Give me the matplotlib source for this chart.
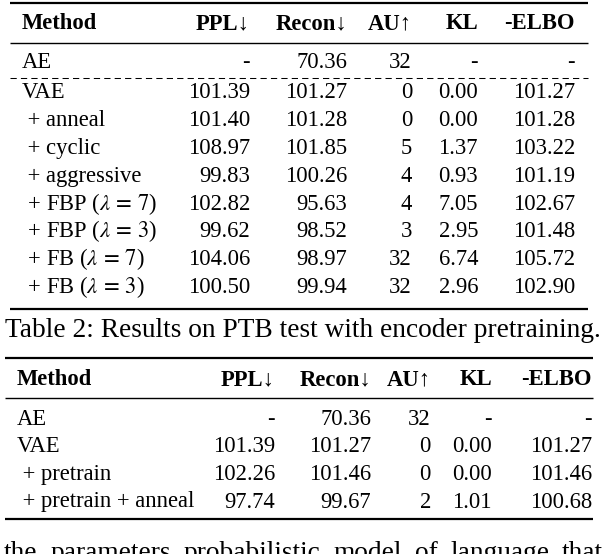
import numpy as np
import matplotlib.pyplot as plt

plt.rcParams['font.family'] = ['Liberation Serif', 'DejaVu Serif']
plt.rcParams['mathtext.fontset'] = 'stix'

#%% data
header = ['Method', 'PPL\u2193', 'Recon\u2193', 'AU\u2191', 'KL', '-ELBO']

methods1 = ['AE', 'VAE', ' + anneal', ' + cyclic', ' + aggressive',
            r' + FBP ($\lambda\,=\,7$)', r' + FBP ($\lambda\,=\,3$)',
            r' + FB ($\lambda\,=\,7$)', r' + FB ($\lambda\,=\,3$)']
ppl1 = ['-', '101.39', '101.40', '108.97', '99.83', '102.82', '99.62', '104.06', '100.50']
recon1 = ['70.36', '101.27', '101.28', '101.85', '100.26', '95.63', '98.52', '98.97', '99.94']
au1 = ['32', '0', '0', '5', '4', '4', '3', '32', '32']
kl1 = ['-', '0.00', '0.00', '1.37', '0.93', '7.05', '2.95', '6.74', '2.96']
elbo1 = ['-', '101.27', '101.28', '103.22', '101.19', '102.67', '101.48', '105.72', '102.90']

caption = 'Table 2: Results on PTB test with encoder pretraining.'

methods2 = ['AE', 'VAE', ' + pretrain', ' + pretrain + anneal']
ppl2 = ['-', '101.39', '102.26', '97.74']
recon2 = ['70.36', '101.27', '101.46', '99.67']
au2 = ['32', '0', '0', '2']
kl2 = ['-', '0.00', '0.00', '1.01']
elbo2 = ['-', '101.27', '101.46', '100.68']

# the next paragraph, cut off by the bottom edge
body_words = ['the', 'parameters', 'probabilistic', 'model', 'of', 'language', 'that']

#%% layout (pixels)
W, H = 606, 554
fs = 16.3
fs_cap = 19.7

fig = plt.figure(figsize=(W/100, H/100), dpi=100)
ax = fig.add_axes([0, 0, 1, 1])
ax.set_xlim(0, W)
ax.set_ylim(H, 0)
ax.axis('off')


def draw_table(y_top, y_head, y_mid, rows_y, y_bot, x_left, x_right, x_text, cols_x, columns, dash_y=None):
    ax.plot([x_left, x_right], [y_top, y_top], color='k', lw=1.6, solid_capstyle='butt')
    ax.plot([x_left, x_right], [y_mid, y_mid], color='k', lw=1.0, solid_capstyle='butt')
    ax.plot([x_left, x_right], [y_bot, y_bot], color='k', lw=1.6, solid_capstyle='butt')
    if dash_y is not None:
        ax.plot([x_left, x_right], [dash_y, dash_y], color='k', lw=0.75,
                linestyle=(0, (6, 4)))
    ax.text(x_text, y_head, header[0], fontsize=fs, fontweight='bold', va='baseline', ha='left')
    for name, x in zip(header[1:], cols_x):
        ax.text(x, y_head, name, fontsize=fs, fontweight='bold', va='baseline', ha='right')
    for i, y in enumerate(rows_y):
        ax.text(x_text, y, columns[0][i], fontsize=fs, va='baseline', ha='left')
        for col, x in zip(columns[1:], cols_x):
            ax.text(x, y, col[i], fontsize=fs, va='baseline', ha='right')


#%% table 1
rows1 = [68, 98.5, 126.5, 154.2, 182, 209.7, 237.4, 265, 292.8]
draw_table(3, 29, 42.5, rows1, 309, 10, 588, 22, [250, 347, 412, 478, 575],
           [methods1, ppl1, recon1, au1, kl1, elbo1], dash_y=78)

ax.text(5, 337, caption, fontsize=fs_cap, va='baseline', ha='left')

#%% table 2
rows2 = [425, 452.5, 480, 507.5]
draw_table(358, 385, 398, rows2, 519, 5, 593, 17, [275, 371, 431, 492, 592],
           [methods2, ppl2, recon2, au2, kl2, elbo2])

#%% justified line of body text below the tables (cut by the bottom edge)
renderer = fig.canvas.get_renderer()
words = [ax.text(0, 560, w, fontsize=fs_cap, va='baseline', ha='left') for w in body_words]
widths = [t.get_window_extent(renderer).width for t in words]
x0, x1 = 4, 603
gap = (x1 - x0 - sum(widths)) / (len(words) - 1)
x = x0
for t, wd in zip(words, widths):
    t.set_x(x)
    x += wd + gap

plt.savefig('out.png', dpi=100)
